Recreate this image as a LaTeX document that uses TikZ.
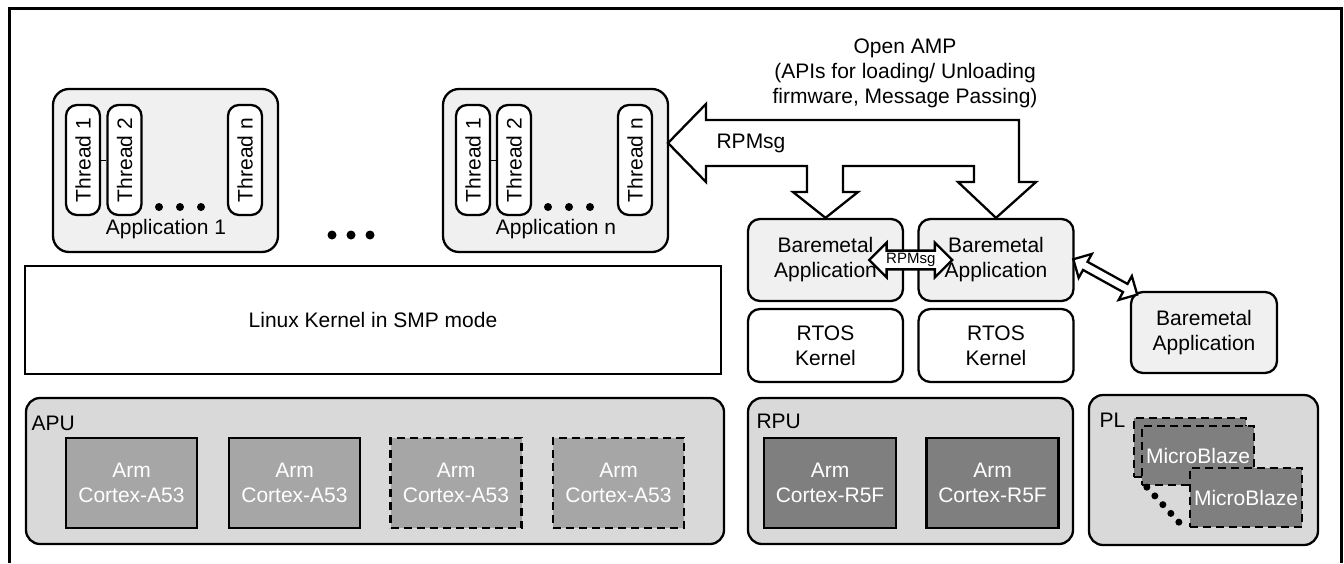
\documentclass[tikz,border=0pt]{standalone}
\usepackage{fontspec}
\setmainfont{Liberation Sans}
\usetikzlibrary{shapes.arrows,calc}
\definecolor{appgray}{HTML}{F0F0F0}
\definecolor{unitgray}{HTML}{D9D9D9}
\definecolor{agray}{HTML}{A6A6A6}
\definecolor{rgray}{HTML}{7F7F7F}

\begin{document}
\begin{tikzpicture}[x=1pt,y=-1pt,
    every node/.style={font=\fontsize{21}{25}\selectfont},
    appbox/.style={draw,line width=2.3pt,rounded corners=16pt,fill=appgray,minimum width=225pt,minimum height=163pt},
    thread/.style={draw,line width=2.3pt,rounded corners=11pt,fill=white,rotate=90,minimum width=110pt,minimum height=34pt,inner sep=0pt},
    bmbox/.style={draw,line width=2.3pt,rounded corners=12pt,fill=appgray,align=center,minimum width=155pt,minimum height=82pt},
    rtosbox/.style={draw,line width=2.3pt,rounded corners=12pt,fill=white,align=center,minimum width=155pt,minimum height=73pt},
    cpubox/.style={draw,line width=2.3pt,rounded corners=14pt,fill=unitgray,minimum height=146pt},
    core/.style={draw,line width=2.3pt,text=white,align=center,minimum width=131pt,minimum height=90pt},
    dashcore/.style={core,dash pattern=on 8pt off 5pt},
    mbbox/.style={draw,line width=2.3pt,fill=rgray,text=white,dash pattern=on 8pt off 5pt,minimum width=112pt,minimum height=59pt,inner sep=0pt},
    msgarrow/.style={draw,line width=2.3pt,fill=white,double arrow,double arrow tip angle=90,double arrow head extend=8pt}]
  \useasboundingbox (0,0) rectangle (1344,563);
  \draw[line width=3pt] (9,563) |- (1341,8) -- (1341,563);
  %
  \node[appbox] (app1) at (165.5,170.5) {};
  \node[thread] (t11) at (83,160) {Thread 1};
  \node[thread] (t12) at (124.5,160) {Thread 2};
  \node[thread] (t1n) at (245,160) {Thread n};
  \draw (t11) -- (t12);
  \foreach \x in {159,180,201} \fill (\x,207) circle (4);
  \node (app1lbl) at (166,229) {Application 1};
  \foreach \x in {332,351,370} \fill (\x,235) circle (4.5);
  \node[appbox] (appn) at (555.5,170.5) {};
  \node[thread] (tn1) at (473,160) {Thread 1};
  \node[thread] (tn2) at (514,160) {Thread 2};
  \node[thread] (tnn) at (635,160) {Thread n};
  \draw (tn1) -- (tn2);
  \foreach \x in {548,569,590} \fill (\x,207) circle (4);
  \node (appnlbl) at (556,229) {Application n};
  %
  \node[bmbox] (bm1) at (825.5,260) {Baremetal\\Application};
  \node[bmbox] (bm2) at (996,260) {Baremetal\\Application};
  \node[rtosbox] (rtos1) at (825.5,345.5) {RTOS\\Kernel};
  \node[rtosbox] (rtos2) at (996,345.5) {RTOS\\Kernel};
  \node[bmbox,minimum width=146pt,minimum height=81pt] (bm3) at (1204,332.5) {Baremetal\\Application};
  \draw[line width=2.3pt,fill=white] (668,143) -- (706,104) -- (706,120) -- (1019,120) -- (1019,182)
    -- (1036,182) -- (bm2.north) -- (958,182) -- (974,182) -- (974,166) -- (843,166) -- (843,192)
    -- (858,192) -- (bm1.north) -- (793,192) -- (807,192) -- (807,166) -- (706,166) -- (706,182) -- cycle;
  \node (rpmsg) at (751,143) {RPMsg};
  \node[align=center] (openamp) at (905,73) {Open AMP\\(APIs for loading/ Unloading\\firmware, Message Passing)};
  \path (bm1.east) -- (bm2.west) node[msgarrow,midway,minimum height=83pt,inner sep=1.5pt,font=\fontsize{15}{18}\selectfont] (rpmsgbm) {RPMsg};
  \coordinate (bm3tip) at ($(bm3.north west)+(6,3)$);
  \path (bm2.east) -- (bm3tip) node[msgarrow,midway,sloped,minimum height=73pt,inner sep=3.5pt,double arrow head extend=9pt] (bmlink) {};
  %
  \node[draw,line width=2.3pt,fill=white,minimum width=696pt,minimum height=108pt] (linux) at (373,320) {Linux Kernel in SMP mode};
  %
  \node[cpubox,minimum width=698pt] (apu) at (375,471) {};
  \node[anchor=west] (apulbl) at (28,423) {APU};
  \node[core,fill=agray] (a1) at (131.5,483) {Arm\\Cortex-A53};
  \node[core,fill=agray] (a2) at (294.5,483) {Arm\\Cortex-A53};
  \node[dashcore,fill=agray] (a3) at (456,483) {Arm\\Cortex-A53};
  \node[dashcore,fill=agray] (a4) at (618.5,483) {Arm\\Cortex-A53};
  %
  \node[cpubox,minimum width=325pt] (rpu) at (910.5,471) {};
  \node[anchor=west] (rpulbl) at (753,421) {RPU};
  \node[core,fill=rgray,minimum width=132pt] (r1) at (830,483) {Arm\\Cortex-R5F};
  \node[core,fill=rgray,minimum width=132pt] (r2) at (992.5,483) {Arm\\Cortex-R5F};
  %
  \node[cpubox,minimum width=229pt,minimum height=150pt] (pl) at (1203.5,470) {};
  \node[anchor=west] (pllbl) at (1096,420) {PL};
  \node[mbbox] (mb0) at (1190,447.5) {};
  \node[mbbox] (mb1) at (1198,455.5) {MicroBlaze};
  \node[mbbox] (mb2) at (1246,497.5) {MicroBlaze};
  \foreach \i in {0,...,4} \fill ($(mb1.south west)+(6+\i*8,1+\i*8.75)$) circle (3.5);
\end{tikzpicture}
\end{document}
